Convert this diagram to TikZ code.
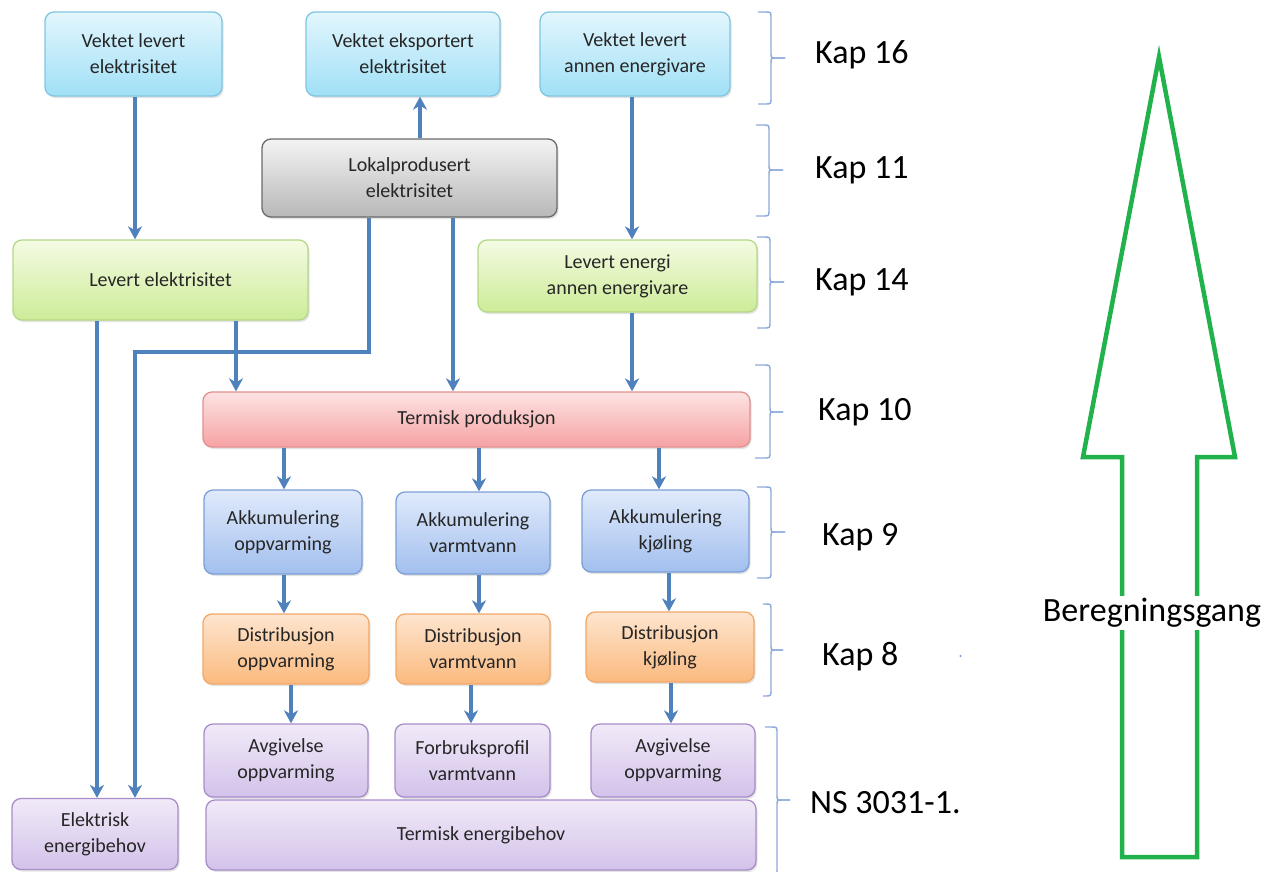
\documentclass[tikz,border=0pt]{standalone}
\usepackage{fontspec}
\setmainfont{Carlito}
\usetikzlibrary{arrows.meta,shadows}
\definecolor{arrblue}{HTML}{4F81BD}
\definecolor{bracecol}{HTML}{8EAADB}
\definecolor{biggreen}{HTML}{22B24C}
\definecolor{txtcol}{HTML}{262626}
\definecolor{cyT}{HTML}{E3F6FD}\definecolor{cyB}{HTML}{A0E0F6}\definecolor{cyD}{HTML}{80C6E2}
\definecolor{grT}{HTML}{F3F3F3}\definecolor{grB}{HTML}{B8B8B8}\definecolor{grD}{HTML}{6A6A6A}
\definecolor{gnT}{HTML}{F4FBE3}\definecolor{gnB}{HTML}{CDEC98}\definecolor{gnD}{HTML}{B5D888}
\definecolor{rdT}{HTML}{FDE3E3}\definecolor{rdB}{HTML}{F6A2A2}\definecolor{rdD}{HTML}{E29090}
\definecolor{blT}{HTML}{E0EAFB}\definecolor{blB}{HTML}{A2BFEE}\definecolor{blD}{HTML}{7C9FD6}
\definecolor{orT}{HTML}{FDE5CF}\definecolor{orB}{HTML}{FBBA7E}\definecolor{orD}{HTML}{F2A868}
\definecolor{puT}{HTML}{F1EAF8}\definecolor{puB}{HTML}{D3C2EA}\definecolor{puD}{HTML}{A88DCA}
\tikzset{
  boxbase/.style={draw, rounded corners=9pt, align=center, text=txtcol,
    font=\fontsize{20}{26}\selectfont, line width=1.3pt, inner sep=2pt,
    drop shadow={opacity=0.22, shadow xshift=1.5pt, shadow yshift=-2pt}},
  cyanbox/.style={boxbase, draw=cyD, top color=cyT, bottom color=cyB},
  graybox/.style={boxbase, draw=grD, top color=grT, bottom color=grB},
  greenbox/.style={boxbase, draw=gnD, top color=gnT, bottom color=gnB},
  redbox/.style={boxbase, draw=rdD, top color=rdT, bottom color=rdB},
  bluebox/.style={boxbase, draw=blD, top color=blT, bottom color=blB},
  orangebox/.style={boxbase, draw=orD, top color=orT, bottom color=orB},
  purplebox/.style={boxbase, draw=puD, top color=puT, bottom color=puB},
  arr/.style={draw=arrblue, line width=3.4pt, -{Stealth[length=13pt,width=14pt,inset=4pt]}},
  bracestyle/.style={draw=bracecol, line width=1.4pt},
  kaplabel/.style={anchor=west, font=\fontsize{34}{38}\selectfont, text=black, inner sep=0pt},
}
\newcommand\kapbrace[5]{%
  \draw[bracestyle] (#1,#4) -- ({#2-6},#4) .. controls (#2,#4) .. (#2,{#4+6})
    -- (#2,{#5-5}) .. controls (#2,#5) .. ({#2+5},#5) -- (#3,#5);
  \draw[bracestyle] (#3,#5) -- ({#2+5},#5) .. controls (#2,#5) .. (#2,{#5+5})
    -- (#2,{\kbb-6}) .. controls (#2,\kbb) .. ({#2-6},\kbb) -- (#1,\kbb);
}
\begin{document}
\begin{tikzpicture}[x=1pt,y=-1pt]
\useasboundingbox[fill=white] (0,0) rectangle (1268,871);

% top row
\node[cyanbox, minimum width=177pt, minimum height=84pt] (vle) at (133.5,54) {Vektet levert\\elektrisitet};
\node[cyanbox, minimum width=194pt, minimum height=84pt] (vee) at (403,54) {Vektet eksportert\\elektrisitet};
\node[cyanbox, minimum width=190pt, minimum height=84pt] (vla) at (635,54) {Vektet levert\\annen energivare};

\node[graybox, minimum width=295pt, minimum height=78pt] (lok) at (409.5,178) {Lokalprodusert\\elektrisitet};

\node[greenbox, minimum width=295pt, minimum height=80pt] (lel) at (160.5,280) {Levert elektrisitet};
\node[greenbox, minimum width=279pt, minimum height=72pt] (lea) at (617.5,276) {Levert energi\\annen energivare};

\node[redbox, minimum width=547pt, minimum height=55pt] (tp) at (476.5,419.5) {Termisk produksjon};

\node[bluebox, minimum width=158pt, minimum height=84pt] (ao) at (283,532) {Akkumulering\\oppvarming};
\node[bluebox, minimum width=154pt, minimum height=82pt] (av) at (473,533) {Akkumulering\\varmtvann};
\node[bluebox, minimum width=167pt, minimum height=82pt] (ak) at (665.5,531) {Akkumulering\\kjøling};

\node[orangebox, minimum width=166pt, minimum height=70pt] (do) at (286,649) {Distribusjon\\oppvarming};
\node[orangebox, minimum width=154pt, minimum height=70pt] (dv) at (473,649) {Distribusjon\\varmtvann};
\node[orangebox, minimum width=168pt, minimum height=70pt] (dk) at (670,647) {Distribusjon\\kjøling};

\node[purplebox, minimum width=164pt, minimum height=73pt] (ago) at (286,760.5) {Avgivelse\\oppvarming};
\node[purplebox, minimum width=155pt, minimum height=73pt] (fv) at (472.5,760.5) {Forbruksprofil\\varmtvann};
\node[purplebox, minimum width=164pt, minimum height=73pt] (agk) at (673,760.5) {Avgivelse\\oppvarming};

\node[purplebox, minimum width=550pt, minimum height=70pt] (teb) at (481,835) {Termisk energibehov};
\node[purplebox, minimum width=166pt, minimum height=71pt] (eeb) at (95,834) {Elektrisk\\energibehov};

% connectors
\draw[arr] (135,0 |- vle.south) -- (135,0 |- lel.north);
\draw[arr] (420,0 |- lok.north) -- (420,0 |- vee.south);
\draw[arr] (632,0 |- vla.south) -- (632,0 |- lea.north);
\coordinate (bendA) at (369,352);
\coordinate (bendB) at (135,352);
\draw[arr] (369,0 |- lok.south) -- (bendA) -- (bendB) -- (135,0 |- eeb.north);
\draw[arr] (453,0 |- lok.south) -- (453,0 |- tp.north);
\draw[arr] (97,0 |- lel.south) -- (97,0 |- eeb.north);
\draw[arr] (236,0 |- lel.south) -- (236,0 |- tp.north);
\draw[arr] (632,0 |- lea.south) -- (632,0 |- tp.north);

\draw[arr] (284,0 |- tp.south) -- (284,0 |- ao.north);
\draw[arr] (479,0 |- tp.south) -- (479,0 |- av.north);
\draw[arr] (659,0 |- tp.south) -- (659,0 |- ak.north);

\draw[arr] (284,0 |- ao.south) -- (284,0 |- do.north);
\draw[arr] (479,0 |- av.south) -- (479,0 |- dv.north);
\draw[arr] (669,0 |- ak.south) -- (669,0 |- dk.north);

\draw[arr] (291,0 |- do.south) -- (291,0 |- ago.north);
\draw[arr] (471,0 |- dv.south) -- (471,0 |- fv.north);
\draw[arr] (671,0 |- dk.south) -- (671,0 |- agk.north);

% braces
\def\kbb{104}\kapbrace{758}{771}{785}{12}{58}
\def\kbb{216}\kapbrace{756}{769}{783}{125}{170}
\def\kbb{328}\kapbrace{757}{770}{784}{237}{282}
\def\kbb{458}\kapbrace{755}{770}{783}{365}{412}
\def\kbb{578}\kapbrace{757}{771}{785}{487}{532}
\def\kbb{696}\kapbrace{763}{771}{783}{604}{650}
\def\kbb{875}\kapbrace{765}{777}{790}{727}{800}

% labels
\node[kaplabel] (k16) at (815,55) {Kap 16};
\node[kaplabel] (k11) at (815,170) {Kap 11};
\node[kaplabel] (k14) at (815,282) {Kap 14};
\node[kaplabel] (k10) at (818,412) {Kap 10};
\node[kaplabel] (k9) at (822,537) {Kap 9};
\node[kaplabel] (k8) at (822,657) {Kap 8};
\node[kaplabel] (ns) at (810,803) {NS 3031-1.};
\fill[arrblue!80] (960.5,656) circle (1.2pt);

% big arrow
\draw[biggreen, line width=4.5pt, line join=miter] (1159,57) -- (1235,457) -- (1197,457) -- (1197,857) -- (1122,857) -- (1122,457) -- (1083,457) -- cycle;
\node[font=\fontsize{34}{38}\selectfont, fill=white, inner sep=2pt] (bg) at (1152,613) {Beregningsgang};
\end{tikzpicture}
\end{document}
